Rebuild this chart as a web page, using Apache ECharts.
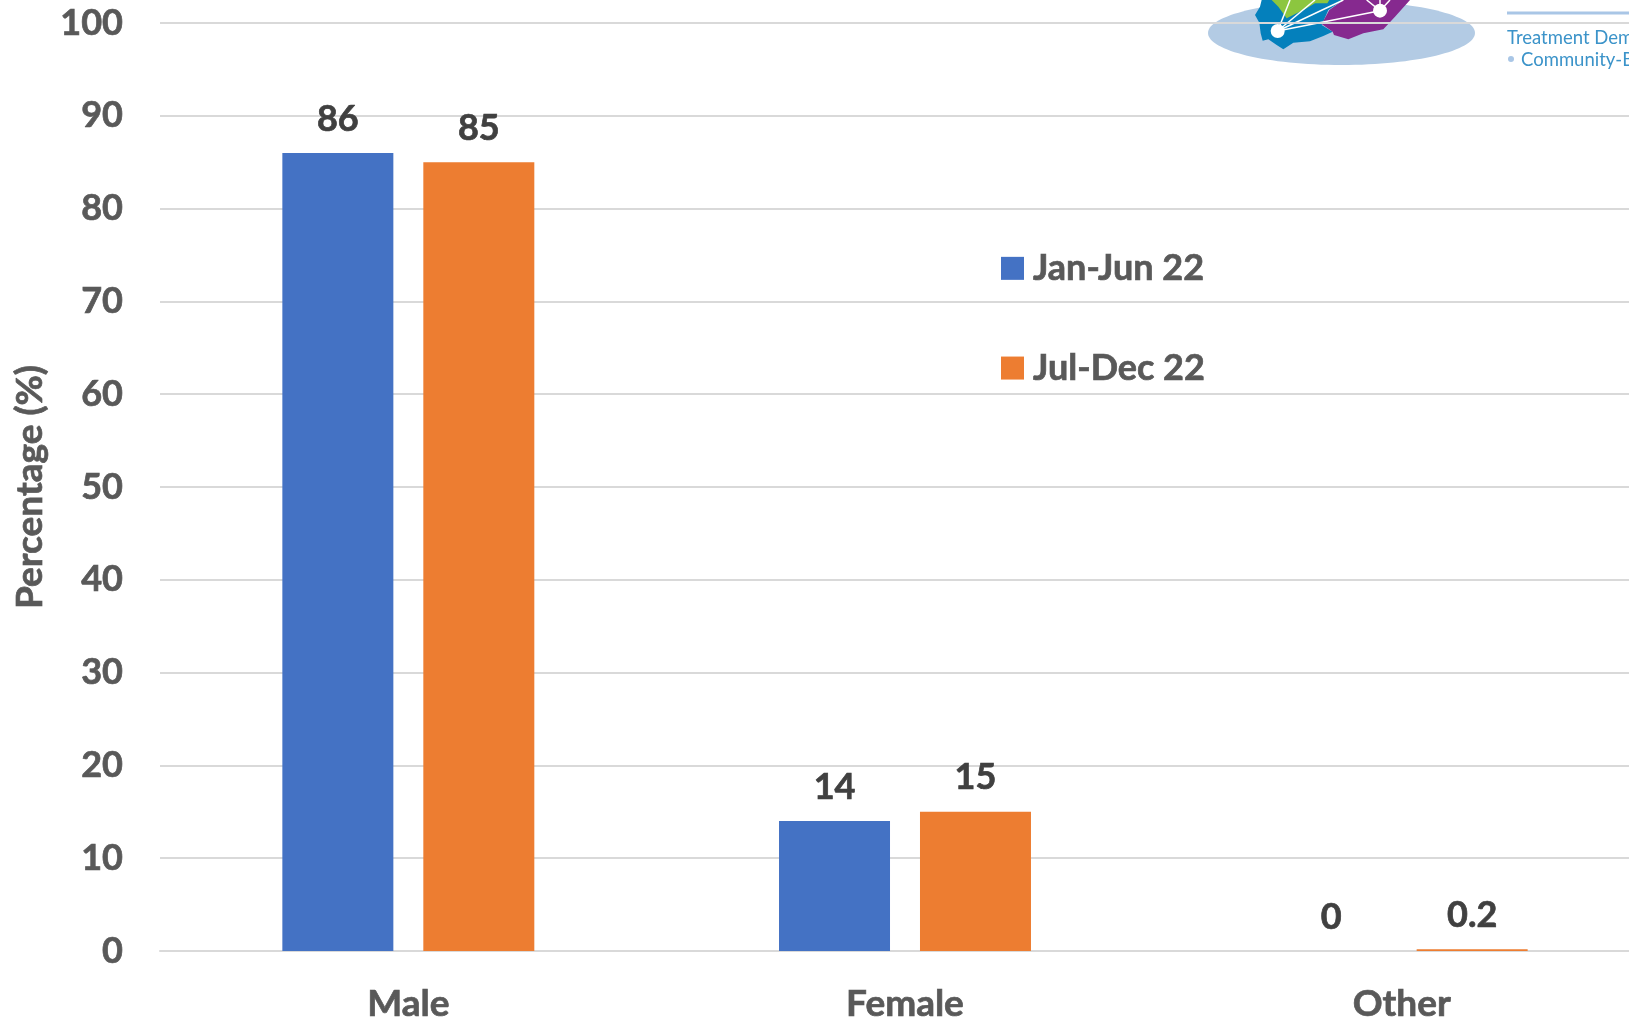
<!DOCTYPE html>
<html><head><meta charset="utf-8">
<style>html,body{margin:0;padding:0;background:#fff}#c{width:1629px;height:1021px}</style>
<script src="https://cdn.jsdelivr.net/npm/echarts@6/dist/echarts.min.js"></script>
</head><body><div id="c"></div>
<script>
const categories = ['Male','Female','Other'];
const janJun = [86,14,0];
const julDec = [85,15,0.2];
const yTicks = {min:0,max:100,interval:10};
const FONT = 'Lato, "Open Sans", sans-serif';

// decorative logo, traced in page pixels
const pts = a => a.map(p => [1240+p[0]/3, p[1]/3]);
const poly = (a,fill,z) => ({type:'polygon',z:z,shape:{points:pts(a)},style:{fill}});
const line = (a,b) => ({type:'line',z:3,shape:{x1:1240+a[0]/3,y1:a[1]/3,x2:1240+b[0]/3,y2:b[1]/3},style:{stroke:'#fff',lineWidth:1.5}});
const dot = (a,r) => ({type:'circle',z:4,shape:{cx:1240+a[0]/3,cy:a[1]/3,r},style:{fill:'#fff'}});
const logo = [
 {type:'ellipse',z:0,shape:{cx:1341.5,cy:33,rx:133.5,ry:32},style:{fill:'#B3CBE4'}},
 poly([[65,0],[60,20],[45,45],[58,68],[62,100],[68,122],[85,118],[110,135],[130,148],[160,128],[210,124],[250,108],[278,95],[245,75],[265,30],[310,0]],'#0480BC',1),
 poly([[95,0],[115,20],[140,55],[200,25],[225,10],[262,10],[268,0]],'#8CC63F',2),
 poly([[310,0],[268,30],[245,72],[278,95],[282,105],[325,118],[370,100],[430,88],[465,50],[510,0]],'#86298F',2),
 line([113,93],[420,32]),line([113,93],[310,0]),line([113,93],[225,0]),line([113,93],[150,0]),
 line([420,32],[380,0]),line([420,32],[420,0]),line([420,32],[450,0]),
 dot([113,93],7),dot([420,32],7),
 {type:'rect',z:5,shape:{x:1208,y:22,width:267,height:2},style:{fill:'#D9D9D9'}},
 {type:'rect',z:1,shape:{x:1507,y:11.5,width:122,height:3},style:{fill:'#A9C6E6'}},
 {type:'text',z:1,x:1507,y:38,style:{text:'Treatment Demonstration',font:'18.5px '+FONT,fill:'#3B93C9',verticalAlign:'middle'}},
 {type:'circle',z:1,shape:{cx:1511,cy:59,r:3},style:{fill:'#A9C6E6'}},
 {type:'text',z:1,x:1521,y:60,style:{text:'Community-Based',font:'18.5px '+FONT,fill:'#3B93C9',verticalAlign:'middle'}}
];

const heavy = c => ({color:c,fontFamily:FONT,fontWeight:'bold',textBorderColor:c,textBorderWidth:0.7});
const labelStyle = Object.assign(heavy('#404040'),{show:true,position:'top',distance:16,fontSize:36});
const chart = echarts.init(document.getElementById('c'),null,{renderer:'canvas'});
chart.setOption({
 animation:false,
 backgroundColor:'#fff',
 graphic:logo.map(g=>Object.assign({},g,{silent:true})),
 grid:{left:160,top:23,width:1490,height:928,containLabel:false,outerBoundsMode:'none'},
 legend:{orient:'vertical',left:996,top:245,itemWidth:23,itemHeight:23,itemGap:63,icon:'rect',
  textStyle:Object.assign(heavy('#595959'),{fontSize:36,padding:[0,0,0,4]})},
 xAxis:{type:'category',data:categories,axisTick:{show:false},
  axisLine:{lineStyle:{color:'#D9D9D9',width:2}},
  axisLabel:Object.assign(heavy('#595959'),{fontSize:37,margin:35})},
 yAxis:{type:'value',min:yTicks.min,max:yTicks.max,interval:yTicks.interval,
  name:'Percentage (%)',nameLocation:'middle',nameGap:109,
  nameTextStyle:Object.assign(heavy('#595959'),{fontSize:37}),
  axisLine:{show:false},axisTick:{show:false},
  axisLabel:Object.assign(heavy('#595959'),{fontSize:36,margin:37}),
  splitLine:{lineStyle:{color:'#D9D9D9',width:2}}},
 series:[
  {name:'Jan-Jun 22',type:'bar',data:janJun,barWidth:111,barGap:'27%',itemStyle:{color:'#4472C4'},label:labelStyle},
  {name:'Jul-Dec 22',type:'bar',data:julDec,barWidth:111,barGap:'27%',itemStyle:{color:'#ED7D31'},label:labelStyle}
 ]
});
</script></body></html>
